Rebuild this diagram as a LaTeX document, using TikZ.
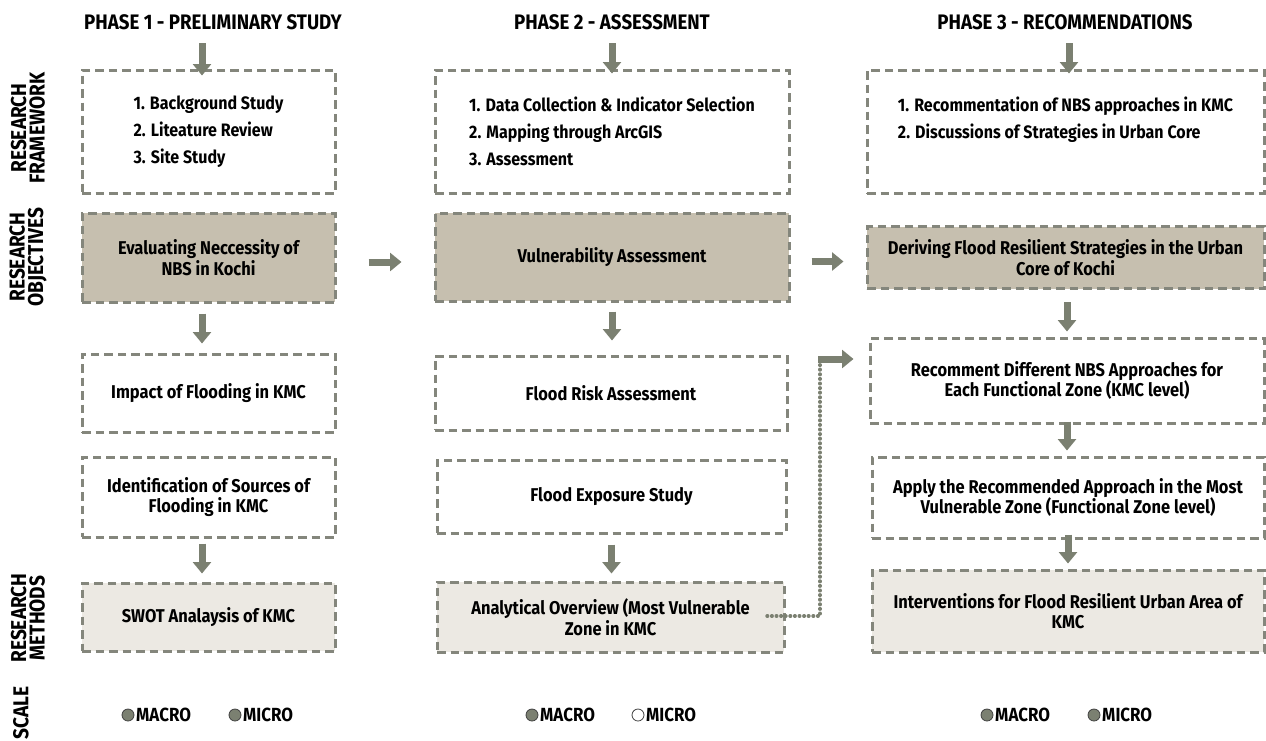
\documentclass[tikz,border=0pt]{standalone}
\usepackage{fontspec}
\setmainfont{Fira Sans}[FakeStretch=0.89]
\usetikzlibrary{arrows.meta}
\definecolor{bord}{HTML}{84867C}
\definecolor{arrc}{HTML}{7B8071}
\definecolor{darkf}{HTML}{C6BFAF}
\definecolor{lightf}{HTML}{ECE9E3}
\newcommand\bodyfont{\fontsize{18.5}{20.5}\selectfont\bfseries}
\newcommand\listfont{\fontsize{18}{27}\selectfont\bfseries}
\newcommand\titlefont{\fontsize{21}{22}\selectfont\bfseries}
\newcommand\sidefont{\fontsize{21.5}{18.5}\selectfont\bfseries}
\newcommand\scalefont{\fontsize{19}{20}\selectfont\bfseries}
\begin{document}
\begin{tikzpicture}[x=1pt,y=-1pt,
  box/.style={draw=bord, line width=3pt, dash pattern=on 8.5pt off 5pt, inner sep=2pt, align=center, font=\bodyfont, text=black},
  listbox/.style={box, align=left, font=\listfont},
  darkbox/.style={box, fill=darkf},
  lightbox/.style={box, fill=lightf},
  arr/.style={draw=arrc, line width=7pt, -{Triangle[width=18pt,length=11.5pt]}},
  dotline/.style={draw=arrc, line width=3.4pt, line cap=round, dash pattern=on 0.6pt off 4pt},
  title/.style={font=\titlefont, inner sep=0pt},
  side/.style={font=\sidefont, rotate=90, align=center, inner sep=0pt},
  sdot/.style={circle, draw=black!75, line width=0.8pt, minimum size=12pt, inner sep=0pt},
  stext/.style={font=\scalefont, anchor=west, inner sep=0pt}]
\useasboundingbox (0,0) rectangle (1266,740);
\fill[white] (0,0) rectangle (1266,740);

% titles
\node[title] (t1) at (213,22) {PHASE 1 - PRELIMINARY STUDY};
\node[title] (t2) at (612,22) {PHASE 2 - ASSESSMENT};
\node[title] (t3) at (1065,22) {PHASE 3 - RECOMMENDATIONS};

% side labels
\node[side] (s1) at (28,128) {RESEARCH\\FRAMEWORK};
\node[side] (s2) at (28,257) {RESEARCH\\OBJECTIVES};
\node[side] (s3) at (28,618) {RESEARCH\\METHODS};
\node[side] (s4) at (21,713) {SCALE};

% phase 1
\node[listbox, minimum width=253pt, minimum height=123pt] (fw1) at (208.5,131.5)
  {1. Background Study\\2. Liteature Review\\3. Site Study};
\node[darkbox, minimum width=253pt, minimum height=89pt] (obj1) at (208.5,257.5)
  {Evaluating Neccessity of\\NBS in Kochi};
\node[box, minimum width=253pt, minimum height=78pt] (imp1) at (208.5,393)
  {Impact of Flooding in KMC};
\node[box, minimum width=253pt, minimum height=80pt] (id1) at (208.5,497)
  {Identification of Sources of\\Flooding in KMC};
\node[lightbox, minimum width=253pt, minimum height=68pt] (sw1) at (208.5,617)
  {SWOT Analaysis of KMC};

% phase 2
\node[listbox, minimum width=354pt, minimum height=123pt] (fw2) at (612,131.5)
  {1. Data Collection \& Indicator Selection\\2. Mapping through ArcGIS\\3. Assessment};
\node[darkbox, minimum width=354pt, minimum height=88pt] (obj2) at (612,257)
  {Vulnerability Assessment};
\node[box, minimum width=352pt, minimum height=74pt] (risk2) at (611,393)
  {Flood Risk Assessment};
\node[box, minimum width=349pt, minimum height=73pt] (exp2) at (611.5,496.5)
  {Flood Exposure Study};
\node[lightbox, minimum width=347pt, minimum height=70pt] (anl2) at (610.5,617)
  {Analytical Overview (Most Vulnerable\\Zone in KMC};

% phase 3
\node[listbox, minimum width=397pt, minimum height=123pt] (fw3) at (1065.5,131.5)
  {1. Recommentation of NBS approaches in KMC\\2. Discussions of Strategies in Urban Core\\\mbox{}};
\node[darkbox, minimum width=397pt, minimum height=62pt] (obj3) at (1065.5,257.5)
  {Deriving Flood Resilient Strategies in the Urban\\Core of Kochi};
\node[box, minimum width=394pt, minimum height=85pt] (rec3) at (1067,380.5)
  {Recomment Different NBS Approaches for\\Each Functional Zone (KMC level)};
\node[box, minimum width=392pt, minimum height=81pt] (app3) at (1068,497.5)
  {Apply the Recommended Approach in the Most\\Vulnerable Zone (Functional Zone level)};
\node[lightbox, minimum width=392pt, minimum height=82pt] (int3) at (1068,611)
  {Interventions for Flood Resilient Urban Area of\\KMC};

% top arrows
\coordinate (a1) at (202,43);
\coordinate (a2) at (612,43);
\coordinate (a3) at (1069,43);
\draw[arr] (a1) -- ([yshift=-7pt]fw1.north -| a1);
\draw[arr] (a2) -- ([yshift=-5pt]fw2.north -| a2);
\draw[arr] (a3) -- ([yshift=-5pt]fw3.north -| a3);

% vertical arrows
\draw[arr, shorten <=10pt, shorten >=9pt] ([xshift=-6.5pt]obj1.south) -- ([xshift=-6.5pt]imp1.north);
\draw[arr, shorten <=5pt, shorten >=8pt] ([xshift=-6.5pt]id1.south) -- ([xshift=-6.5pt]sw1.north);
\draw[arr, shorten <=9pt, shorten >=14pt] (obj2.south) -- (risk2.north -| obj2.south);
\draw[arr, shorten <=10pt, shorten >=7pt] (exp2.south) -- (anl2.north -| exp2.south);
\draw[arr, shorten <=12pt, shorten >=5pt] (obj3.south -| rec3.north) -- (rec3.north);
\draw[arr, shorten <=-3pt, shorten >=5pt] (rec3.south) -- (app3.north -| rec3.south);
\draw[arr, shorten <=-5pt, shorten >=5pt] (app3.south) -- (int3.north -| app3.south);

% horizontal arrows
\draw[arr, shorten <=32pt, shorten >=32pt] ([yshift=-4.5pt]obj1.east) -- ([yshift=-4.5pt]obj1.east -| obj2.west);
\draw[arr, shorten <=21pt, shorten >=22pt] ([yshift=-4.5pt]obj2.east) -- ([yshift=-4.5pt]obj2.east -| obj3.west);

% dotted connector
\coordinate (d0) at (767,616);
\coordinate (d1) at (820,359);
\draw[dotline] (d0) -| (d1);
\draw[arr, shorten >=15pt] ([xshift=-2pt]d1) -- (d1 -| rec3.west);

% scale
\node[sdot, fill=arrc] (m1) at (128,715) {};
\node[stext] (mt1) at (136,715) {MACRO};
\node[sdot, fill=arrc] (n1) at (235,715) {};
\node[stext] (nt1) at (243,715) {MICRO};
\node[sdot, fill=arrc] (m2) at (532,715) {};
\node[stext] (mt2) at (540,715) {MACRO};
\node[sdot, fill=white] (n2) at (638,715) {};
\node[stext] (nt2) at (646,715) {MICRO};
\node[sdot, fill=arrc] (m3) at (987,715) {};
\node[stext] (mt3) at (995,715) {MACRO};
\node[sdot, fill=arrc] (n3) at (1094,715) {};
\node[stext] (nt3) at (1102,715) {MICRO};
\end{tikzpicture}
\end{document}
